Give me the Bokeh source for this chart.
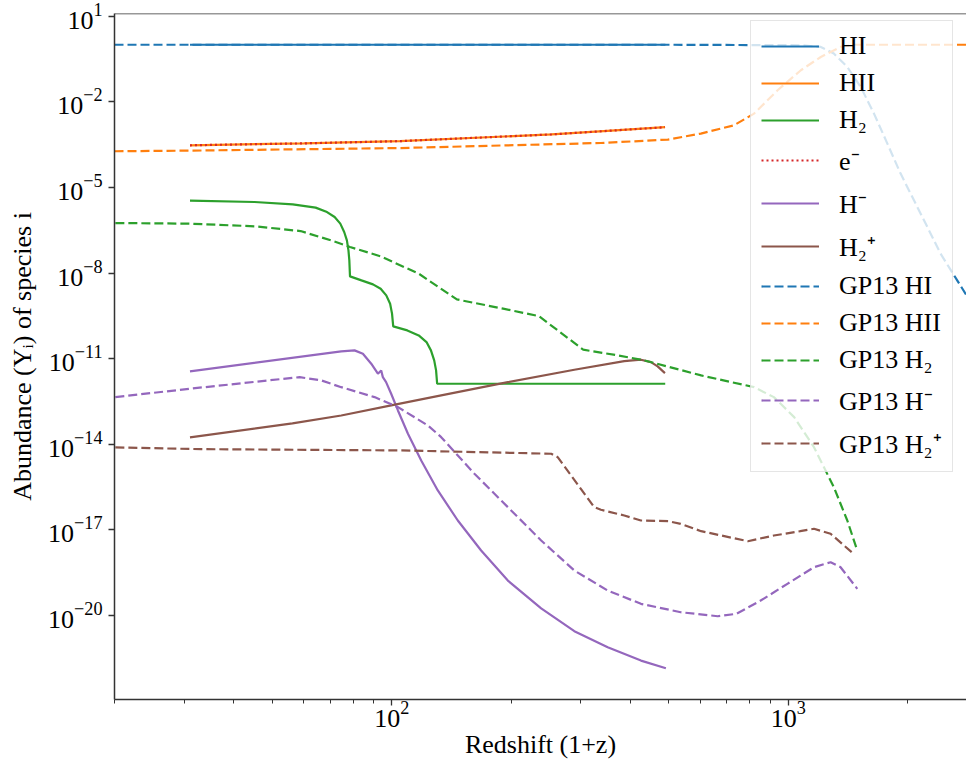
from bokeh.plotting import figure
from bokeh.models import FixedTicker, Legend, LegendItem, Span, Range1d
from bokeh.embed import file_html
from bokeh.resources import INLINE

# ---------------- data ----------------
# model (solid) curves
hi_x = [31, 60, 100, 200, 490]
hi_y = [1.0, 1.0, 1.0, 1.0, 1.0]

hii_x = [31, 60, 105, 180, 253, 350, 489]
hii_y = [3.0e-4, 3.5e-4, 4.2e-4, 5.85e-4, 7.2e-4, 9.6e-4, 1.29e-3]

elec_x = [31, 60, 105, 180, 253, 350, 489]
elec_y = [3.0e-4, 3.5e-4, 4.2e-4, 5.85e-4, 7.2e-4, 9.6e-4, 1.29e-3]

h2_x = [31.0, 45.1, 56.3, 64.3, 68.7, 71.8, 74.2, 75.9, 77.1, 77.8, 78.2,
        78.5, 83.9, 89.7, 93.8, 96.9, 99.1, 100.2, 100.9, 109.5, 117.0, 122.4,
        125.6, 128.0, 129.4, 130.2, 489.5]
h2_y = [3.45e-6, 3.08e-6, 2.56e-6, 1.96e-6, 1.37e-6, 9.18e-7, 5.38e-7,
        2.74e-7, 1.40e-7, 6.24e-8, 2.78e-8, 7.66e-9, 5.53e-9, 4.01e-9,
        2.83e-9, 1.65e-9, 8.43e-10, 3.77e-10, 1.35e-10, 9.77e-11, 6.53e-11,
        3.80e-11, 1.95e-11, 8.67e-12, 3.87e-12, 1.32e-12, 1.32e-12]

hm_x = [31.0, 74.6, 80.6, 84.6, 88.8, 92.3, 94.1, 95.0, 96.8, 99.7, 103.7,
        109.9, 118.7, 130.7, 146.8, 168.1, 196.3, 238.2, 288.8, 350.5, 425.2,
        491.4]
hm_y = [3.57e-12, 1.79e-11, 1.95e-11, 1.49e-11, 6.65e-12, 2.96e-12, 3.87e-12,
        2.25e-12, 1.51e-12, 5.90e-13, 1.53e-13, 2.33e-14, 2.70e-15, 2.40e-16,
        2.13e-17, 1.89e-18, 1.67e-19, 1.78e-20, 2.82e-21, 7.67e-22, 2.62e-22,
        1.41e-22]

h2p_x = [31.0, 56.2, 74.6, 99.7, 133.3, 196.3, 288.8, 385.9, 425.2, 450.6,
         468.4, 488.7]
h2p_y = [1.73e-14, 5.37e-14, 1.02e-13, 2.29e-13, 5.14e-13, 1.50e-12, 4.09e-12,
         8.20e-12, 9.18e-12, 7.57e-12, 5.35e-12, 3.11e-12]

# GP13 (dashed) curves
gp_hi_x = [20, 500, 1075, 1208, 1303, 1409, 1523, 1645, 1778, 1920, 2075,
           2243, 2421, 2667, 2815]
gp_hi_y = [1.0, 1.0, 0.962, 0.839, 0.492, 0.167, 3.32e-2, 3.87e-3, 3.44e-4,
           3.05e-5, 3.53e-6, 4.09e-7, 4.79e-8, 5.53e-9, 1.66e-9]

gp_hii_x = [20, 31, 105, 337, 497, 602, 730, 820, 940, 1076, 1208, 1355,
            1462, 2815]
gp_hii_y = [1.85e-4, 1.95e-4, 2.40e-4, 3.61e-4, 4.75e-4, 7.71e-4, 1.51e-3,
            3.87e-3, 2.54e-2, 0.128, 0.373, 0.839, 1.0, 1.0]

gp_h2_x = [20.1, 31.0, 45.1, 58.9, 70.3, 78.5, 93.8, 117, 146, 191, 235, 304,
           372, 434, 603, 820, 920, 1035, 1161, 1303, 1409, 1493]
gp_h2_y = [5.65e-7, 5.38e-7, 4.34e-7, 2.96e-7, 1.40e-7, 8.15e-8, 3.85e-8,
           9.51e-9, 1.19e-9, 5.64e-10, 3.10e-10, 2.06e-11, 1.30e-11, 8.67e-12,
           2.58e-12, 1.00e-12, 4.48e-13, 8.91e-14, 7.91e-15, 3.13e-16,
           2.13e-17, 1.89e-18]

gp_hm_x = [20.1, 31.0, 58.6, 66.4, 74.6, 90.5, 103.7, 123.4, 133.3, 161.7,
           196.3, 238.2, 288.8, 350.5, 425.2, 535.6, 664, 740, 852, 995, 1161,
           1279, 1355, 1493]
gp_hm_y = [4.48e-13, 8.83e-13, 2.25e-12, 1.73e-12, 1.00e-12, 4.49e-13,
           2.00e-13, 4.56e-14, 1.77e-14, 9.25e-16, 6.24e-17, 4.24e-18,
           3.76e-19, 7.48e-20, 2.56e-20, 1.30e-20, 9.40e-21, 1.14e-20,
           3.33e-20, 1.28e-19, 4.91e-19, 7.35e-19, 4.91e-19, 8.59e-20]

gp_h2p_x = [20.1, 33.1, 106, 252.6, 262.2, 324, 337, 386, 425, 498, 535.6,
            603, 791, 920, 1072, 1161, 1279, 1445]
gp_h2p_y = [7.73e-15, 6.73e-15, 6.07e-15, 4.65e-15, 3.53e-15, 6.24e-17,
            5.05e-17, 3.19e-17, 2.13e-17, 2.01e-17, 1.63e-17, 9.0e-18,
            4.00e-18, 6.34e-18, 8.97e-18, 1.09e-17, 7.28e-18, 1.65e-18]

x_major = [100, 1000]
x_minor = [20, 30, 40, 50, 60, 70, 80, 90, 200, 300, 400, 500, 600, 700, 800,
           900, 2000]
y_major = [1e-20, 1e-17, 1e-14, 1e-11, 1e-8, 1e-5, 1e-2, 1e1]

labels = ["HI", "HII", "H\u2082", "e\u207b", "H\u207b", "H\u2082\u207a",
          "GP13 HI", "GP13 HII", "GP13 H\u2082", "GP13 H\u207b",
          "GP13 H\u2082\u207a"]

# ---------------- figure ----------------
FONT = "Liberation Serif"
X_LO, X_HI = 20, 2815
Y_LO, Y_HI = 1.135e-23, 12.45

p = figure(width=966, height=773, x_axis_type="log", y_axis_type="log",
           x_range=Range1d(X_LO, X_HI), y_range=Range1d(Y_LO, Y_HI),
           output_backend="svg", toolbar_location=None,
           min_border_left=114, min_border_right=0, min_border_top=13,
           min_border_bottom=74)
p.xgrid.visible = False
p.ygrid.visible = False
p.outline_line_color = None
p.background_fill_color = "white"

C = ["#1f77b4", "#ff7f0e", "#2ca02c", "#d62728", "#9467bd", "#8c564b"]
LW = 2.2
DASH = "9 4"

r_hi = p.line(hi_x, hi_y, line_color=C[0], line_width=LW)
r_hii = p.line(hii_x, hii_y, line_color=C[1], line_width=LW)
r_h2 = p.line(h2_x, h2_y, line_color=C[2], line_width=LW)
r_e = p.line(elec_x, elec_y, line_color=C[3], line_width=LW, line_dash="2 3")
r_hm = p.line(hm_x, hm_y, line_color=C[4], line_width=LW)
r_h2p = p.line(h2p_x, h2p_y, line_color=C[5], line_width=LW)
g_hi = p.line(gp_hi_x, gp_hi_y, line_color=C[0], line_width=LW, line_dash=DASH)
g_hii = p.line(gp_hii_x, gp_hii_y, line_color=C[1], line_width=LW, line_dash=DASH)
g_h2 = p.line(gp_h2_x, gp_h2_y, line_color=C[2], line_width=LW, line_dash=DASH)
g_hm = p.line(gp_hm_x, gp_hm_y, line_color=C[4], line_width=LW, line_dash=DASH)
g_h2p = p.line(gp_h2p_x, gp_h2p_y, line_color=C[5], line_width=LW, line_dash=DASH)

rends = [r_hi, r_hii, r_h2, r_e, r_hm, r_h2p, g_hi, g_hii, g_h2, g_hm, g_h2p]

# axes
AX = "#333333"
for ax in (p.xaxis[0], p.yaxis[0]):
    ax.axis_line_color = AX
    ax.axis_line_width = 1.5
    ax.major_tick_line_color = AX
    ax.minor_tick_line_color = AX
    ax.major_tick_line_width = 1.3
    ax.minor_tick_line_width = 1.0
    ax.major_tick_out = 6
    ax.major_tick_in = 0
    ax.minor_tick_out = 4
    ax.minor_tick_in = 0
    ax.major_label_text_font = FONT
    ax.major_label_text_font_size = "26px"
    ax.major_label_text_color = "black"
    ax.axis_label_text_font = FONT
    ax.axis_label_text_font_size = "26px"
    ax.axis_label_text_font_style = "normal"
    ax.axis_label_text_color = "black"

p.xaxis.ticker = FixedTicker(ticks=x_major, minor_ticks=x_minor)
p.yaxis.ticker = FixedTicker(ticks=y_major, minor_ticks=[])
p.xaxis.axis_label = "Redshift (1+z)"
p.yaxis.axis_label = "Abundance (Y\u1d62) of species i"
p.xaxis.major_label_standoff = -4
p.xaxis.axis_label_standoff = 0
p.yaxis.major_label_standoff = 6
p.yaxis.axis_label_standoff = 8

# top spine
p.add_layout(Span(location=Y_HI, dimension="width", line_color=AX,
                  line_width=1.5))

# legend
legend = Legend(items=[LegendItem(label=l, renderers=[r])
                       for l, r in zip(labels, rends)],
                location=(636, 227))
legend.glyph_width = 58
legend.glyph_height = 20
legend.label_standoff = 20
legend.padding = 10
legend.spacing = 7
legend.margin = 0
legend.label_text_font = FONT
legend.label_text_font_size = "26px"
legend.label_text_color = "black"
legend.background_fill_color = "white"
legend.background_fill_alpha = 0.8
legend.border_line_color = "#cccccc"
legend.border_line_width = 1
p.add_layout(legend)

open("out.html", "w").write(file_html(p, INLINE))
